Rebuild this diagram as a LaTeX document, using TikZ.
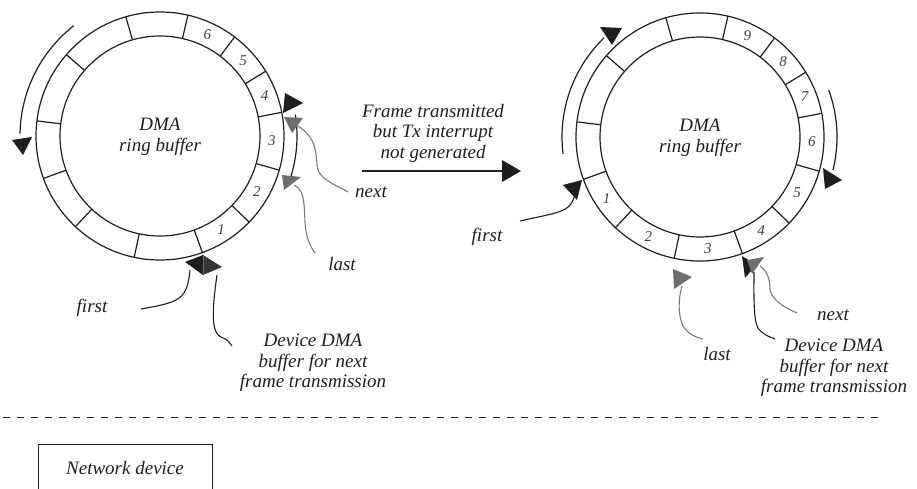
\documentclass[tikz,border=0pt]{standalone}
\usepackage{fontspec}
\setmainfont{Liberation Serif}
\definecolor{ink}{HTML}{1E1E1E}
\definecolor{greyA}{HTML}{6E6E6E}
\definecolor{greyL}{HTML}{7A7A7A}
\begin{document}
\begin{tikzpicture}[x=1pt,y=-1pt,
  ln/.style={draw=ink, line width=1.2pt},
  lbl/.style={font=\fontsize{19}{20.5}\selectfont\itshape, align=center, inner sep=0pt, text=ink},
  num/.style={font=\fontsize{15}{15}\selectfont\itshape, inner sep=0pt, text=ink!85},
  blk/.style={fill=ink, draw=none},
  gry/.style={fill=greyA, draw=none},
  gline/.style={draw=greyL, line width=1.1pt},
  bline/.style={draw=ink, line width=1.1pt},
]
\useasboundingbox (0,0) rectangle (917,489);

% ---------------- left ring ----------------
\begin{scope}[shift={(160,136)}, yscale=-1]
  \draw[ln] (0,0) circle[radius=100pt];
  \draw[ln] (0,0) circle[radius=124pt];
  \foreach \a in {77,106,139,173,200,227,258,290,316,344,11,31.5,53}
    \draw[ln] (\a:100) -- (\a:124);
  \foreach \a/\t in {303/1,330/2,357.5/3,21/4,42/5,65/6}
    \node[num] at (\a:112) {\t};
  \draw[ln] plot[domain=128:179, samples=40, smooth] (\x:140);
  \draw[ln] plot[domain=-20:9, samples=30, smooth] (\x:137);
\end{scope}
\node[lbl] (dmaL) at (160,137) {DMA\\ring buffer};

% arc arrowheads (left)
\fill[blk] (12,140) -- (32,137) -- (23,155) -- cycle;
\fill[blk] (285,93) -- (283,113) -- (303,103) -- cycle;
% pointers (left)
\fill[gry] (284,117) -- (303,118) -- (292,133) -- cycle;
\fill[gry] (282,175) -- (301,177) -- (284,190) -- cycle;
\fill[ink] (185,262) -- (203,255) -- (203,275) -- cycle;
\fill[ink!90] (203,255) -- (222,267) -- (203,275) -- cycle;
\draw[greyA, line width=0.5pt] (203,256) -- (203,274);

\node[lbl] (nextL) at (371,192) {next};
\node[lbl] (lastL) at (342,264) {last};
\node[lbl] (firstL) at (92,308) {first};
\node[lbl] (devL) at (313,363) {Device DMA\\buffer for next\\frame transmission};

\coordinate (fL1) at (190,270);  \coordinate (fL2) at (141,309);
\coordinate (dL1) at (217,275);  \coordinate (dL2) at (232,346);
\coordinate (nL1) at (298,126);  \coordinate (nL2) at (348,192);
\coordinate (lL1) at (294,185);  \coordinate (lL2) at (315,253);
\draw[bline] (fL1) .. controls (187,300) and (180,302) .. (fL2);
\draw[bline] (dL1) .. controls (212,310) and (211,333) .. (221,337) .. controls (227,339) and (229,342) .. (dL2);
\draw[gline] (nL1) .. controls (312,135) and (316,145) .. (317,165) .. controls (318,178) and (330,182) .. (nL2);
\draw[gline] (lL1) .. controls (304,190) and (304,200) .. (305,222) .. controls (306,238) and (310,246) .. (lL2);

% ---------------- middle arrow ----------------
\node[lbl] (mid) at (433,133) {Frame transmitted\\but Tx interrupt\\not generated};
\coordinate (ma) at (362,171);
\coordinate (mb) at (503,171);
\draw[ln] (ma) -- (mb);
\fill[blk] (502,160) -- (502,182) -- (521,171) -- cycle;

% ---------------- right ring ----------------
\begin{scope}[shift={(700,137)}, yscale=-1]
  \draw[ln] (0,0) circle[radius=100pt];
  \draw[ln] (0,0) circle[radius=124pt];
  \foreach \a in {77,106,139,173,200,227,258,290,316,344,11,31.5,53}
    \draw[ln] (\a:100) -- (\a:124);
  \foreach \a/\t in {213.5/1,242.5/2,274/3,303/4,330/5,357.5/6,21/7,42/8,65/9}
    \node[num] at (\a:112) {\t};
  \draw[ln] plot[domain=134:187, samples=40, smooth] (\x:138);
  \draw[ln] plot[domain=-14:20, samples=30, smooth] (\x:137);
\end{scope}
\node[lbl] (dmaR) at (700,138) {DMA\\ring buffer};

\fill[blk] (600,27) -- (622,28) -- (612,45) -- cycle;
\fill[blk] (823,168) -- (825,189) -- (842,180) -- cycle;

\fill[blk] (563,185) -- (582,180) -- (577,200) -- cycle;
\fill[gry] (673,269) -- (692,277) -- (674,289) -- cycle;
\fill[ink] (742,256) -- (745,278) -- (756,265) -- cycle;
\fill[greyA] (747,260) -- (764,257) -- (752,274) -- cycle;

\node[lbl] (firstR) at (487,237) {first};
\node[lbl] (lastR) at (717,354) {last};
\node[lbl] (nextR) at (833,315) {next};
\node[lbl] (devR) at (834,368) {Device DMA\\buffer for next\\frame transmission};

\coordinate (fR1) at (574,197);  \coordinate (fR2) at (520,221);
\coordinate (lR1) at (682,286);  \coordinate (lR2) at (703,339);
\coordinate (dR1) at (754,272);  \coordinate (dR2) at (775,339);
\coordinate (nR1) at (760,266);  \coordinate (nR2) at (797,313);
\draw[bline] (fR1) .. controls (570,212) and (560,212) .. (fR2);
\draw[gline] (lR1) .. controls (678,300) and (678,315) .. (683,326) .. controls (688,334) and (695,337) .. (lR2);
\draw[bline] (dR1) .. controls (754,290) and (753,320) .. (758,328) .. controls (763,335) and (770,337) .. (dR2);
\draw[gline] (nR1) .. controls (768,272) and (770,280) .. (770,290) .. controls (772,300) and (785,308) .. (nR2);

% ---------------- bottom ----------------
\coordinate (dsA) at (3,417);
\coordinate (dsB) at (884,417);
\draw[draw=ink, line width=1pt, dash pattern=on 7pt off 7pt] (dsA) -- (dsB);
\node[draw=ink, line width=1pt, minimum width=174pt, minimum height=70pt, inner sep=0pt, anchor=north west] (nd) at (38,444) {};
\node[lbl] (ndt) at (125,468) {Network device};
\end{tikzpicture}
\end{document}
